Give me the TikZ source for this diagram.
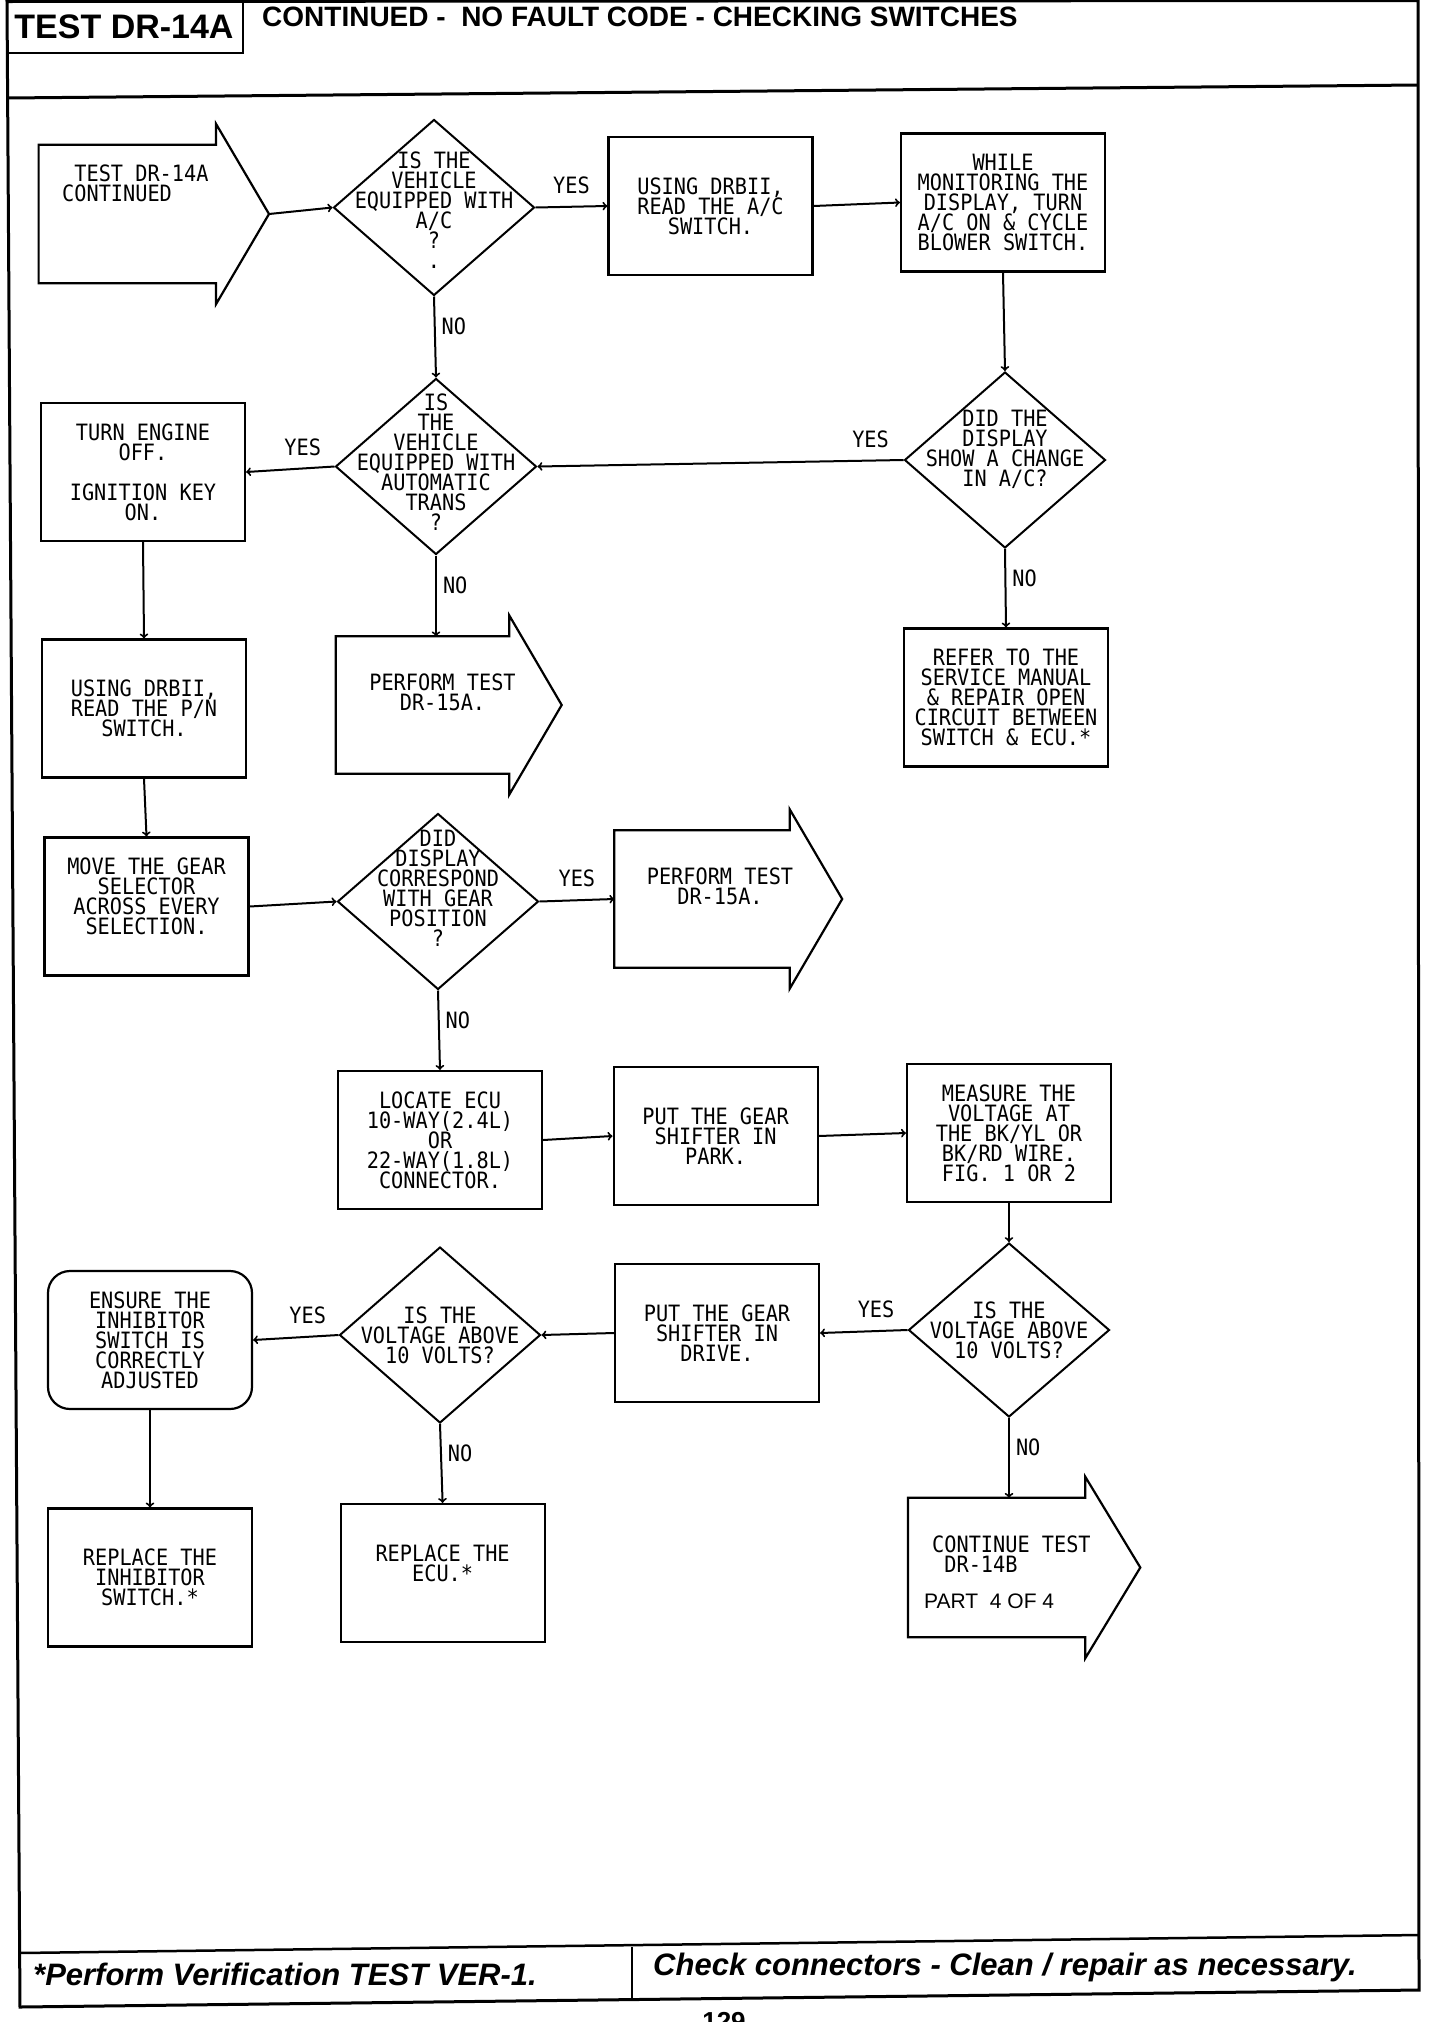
\documentclass[tikz,border=0pt]{standalone}
\usepackage{fontspec}
\setmainfont{Liberation Sans}
\setmonofont[FakeStretch=0.9]{DejaVu Sans Mono}
\usepackage{tikz}
\usetikzlibrary{positioning,shapes,arrows}

\begin{document}
\begin{tikzpicture}[x=1pt,y=-1pt,
        txt/.style={font=\ttfamily\fontsize{22.5}{20}\selectfont,align=center,inner sep=0pt},
        box/.style={draw,line width=2.2pt,minimum width=204pt,minimum height=138pt,txt},
        dia/.style={diamond,draw,line width=2pt,minimum width=201pt,minimum height=176pt,inner sep=0pt},
        arr/.style={minimum width=175pt,minimum height=137pt,inner sep=0pt},
        yn/.style={txt},
        go/.style={->,line width=2pt}]
        \useasboundingbox (0,0) rectangle (1440,2022);

        \draw[line width=3pt] (7,1.5) -- (1418,0.5) -- (1419,1990) -- (20,2007) -- cycle;
        \draw[line width=3pt] (7,98) -- (1418,85);
        \draw[line width=2.5pt] (7,53) -- (243,53) -- (243,1.5);
        \draw[line width=2.5pt] (19,1953) -- (1419,1935);
        \draw[line width=2.5pt] (632,1947) -- (632,1998);

        \node[font=\bfseries\fontsize{34}{34}\selectfont,inner sep=0pt] (title) at (124,27) {TEST DR-14A};
        \node[font=\bfseries\fontsize{28}{28}\selectfont,inner sep=0pt,anchor=west] (head) at (262,17) {CONTINUED -\ \ NO FAULT CODE - CHECKING SWITCHES};
        \node[font=\bfseries\itshape\fontsize{31}{31}\selectfont,inner sep=0pt,anchor=base west] (verify) at (33,1985) {*Perform Verification TEST VER-1.};
        \node[font=\bfseries\itshape\fontsize{31}{31}\selectfont,inner sep=0pt,anchor=base west] (check) at (653,1975) {Check connectors - Clean / repair as necessary.};
        \node[font=\bfseries\fontsize{26}{26}\selectfont,inner sep=0pt,anchor=north] (page) at (724,2012) {129};

        \node[arr,minimum width=177pt,minimum height=138pt] (start) at (127.3,214) {};
        \node[dia,label={[txt,yshift=-3pt]center:{IS THE\\VEHICLE\\EQUIPPED WITH\\A/C\\?\\.}}] (acq) at (434,207.5) {};
        \node[box] (readac) at (710.5,206) {USING DRBII,\\READ THE A/C\\SWITCH.};
        \node[box] (monitor) at (1003,202.5) {WHILE\\MONITORING THE\\DISPLAY, TURN\\A/C ON \& CYCLE\\BLOWER SWITCH.};
        \node[box] (engoff) at (143,472) {TURN ENGINE\\OFF.\\[20pt]IGNITION KEY\\ON.};
        \node[dia,label={[txt,yshift=4pt]center:{IS\\THE\\VEHICLE\\EQUIPPED WITH\\AUTOMATIC\\TRANS\\?}}] (autoq) at (436,466.5) {};
        \node[dia,label={[txt,yshift=11pt]center:{DID THE\\DISPLAY\\SHOW A CHANGE\\IN A/C?}}] (changeq) at (1005,460) {};
        \node[box] (readpn) at (144,708.5) {USING DRBII,\\READ THE P/N\\SWITCH.};
        \node[arr,minimum width=173pt] (dr15a) at (422.5,705) {};
        \node[box] (refer) at (1006,697.5) {REFER TO THE\\SERVICE MANUAL\\\& REPAIR OPEN\\CIRCUIT BETWEEN\\SWITCH \& ECU.*};
        \node[box] (move) at (146.5,906.5) {MOVE THE GEAR\\SELECTOR\\ACROSS EVERY\\SELECTION.\\~};
        \node[dia,label={[txt,yshift=13pt]center:{DID\\DISPLAY\\CORRESPOND\\WITH GEAR\\POSITION\\?}}] (corrq) at (438,901.5) {};
        \node[arr] (dr15b) at (702,899) {};
        \node[box] (locate) at (440,1140) {LOCATE ECU\\10-WAY(2.4L)\\OR\\22-WAY(1.8L)\\CONNECTOR.};
        \node[box] (park) at (715.6,1136) {PUT THE GEAR\\SHIFTER IN\\PARK.};
        \node[box] (measure) at (1009,1133) {MEASURE THE\\VOLTAGE AT\\THE BK/YL OR\\BK/RD WIRE.\\FIG. 1 OR 2};
        \node[dia,minimum height=174pt,label={[txt]center:{IS THE\\VOLTAGE ABOVE\\10 VOLTS?}}] (voltq) at (1009,1330) {};
        \node[box] (drive) at (717,1333) {PUT THE GEAR\\SHIFTER IN\\DRIVE.};
        \node[dia,label={[txt]center:{IS THE\\VOLTAGE ABOVE\\10 VOLTS?}}] (voltqb) at (440,1335) {};
        \node[box,rounded corners=22pt] (ensure) at (150,1340) {ENSURE THE\\INHIBITOR\\SWITCH IS\\CORRECTLY\\ADJUSTED};
        \node[box] (repinh) at (150,1577.5) {REPLACE THE\\INHIBITOR\\SWITCH.*};
        \node[box] (repecu) at (442.6,1573) {REPLACE THE\\ECU.*\\~};
        \node[arr,minimum width=177pt,minimum height=139pt] (cont) at (996.6,1567.5) {};

        \foreach \n/\hl in {start/53,dr15a/52.5,dr15b/52.5,cont/55}{
            \draw[line width=2.2pt] (\n.north east) -- (\n.north west) -- (\n.south west) -- (\n.south east)
                -- ([yshift=-21pt]\n.south east) -- ([xshift=\hl pt]\n.east) -- ([yshift=21pt]\n.north east) -- cycle;
            \coordinate (\n-tip) at ([xshift=\hl pt]\n.east);
        }
        \node[txt,align=left,anchor=west] (start-t) at (62,183) {\ TEST DR-14A\\CONTINUED};
        \node[txt] (dr15a-t) at ([xshift=20pt,yshift=12.5pt]dr15a.center) {PERFORM TEST\\DR-15A.};
        \node[txt] (dr15b-t) at ([xshift=18pt,yshift=12.5pt]dr15b.center) {PERFORM TEST\\DR-15A.};
        \node[txt,align=left,anchor=west] (cont-t) at (924,1572) {\hspace{8pt}CONTINUE TEST\\\hspace{8pt}\ DR-14B\\[16pt]{\rmfamily\fontsize{21}{20}\selectfont PART\ \ 4 OF 4}};

        \draw[go] (start-tip) -- (acq.west);
        \draw[go] (acq.east) -- node[yn,above=12pt] (acq-yes) {YES} (readac.west);
        \draw[go] (readac.east) -- (monitor.west);
        \draw[go] (monitor.south) -- (changeq.north);
        \draw[go] (acq.south) -- node[yn,right=6pt,pos=.37] (acq-no) {NO} (autoq.north);
        \draw[go] (changeq.west) -- node[yn,above=12pt,pos=.09] (changeq-yes) {YES} (autoq.east);
        \draw[go] (autoq.west) -- node[yn,above=12pt,pos=.36] (autoq-yes) {YES} (engoff.east);
        \draw[go] (autoq.south) -- node[yn,right=6pt,pos=.37] (autoq-no) {NO} (autoq.south |- dr15a.north);
        \draw[go] (changeq.south) -- node[yn,right=6pt,pos=.37] (changeq-no) {NO} (refer.north);
        \draw[go] (engoff.south) -- (readpn.north);
        \draw[go] (readpn.south) -- (move.north);
        \draw[go] (move.east) -- (corrq.west);
        \draw[go] (corrq.east) -- node[yn,above=12pt] (corrq-yes) {YES} (dr15b.west);
        \draw[go] (corrq.south) -- node[yn,right=6pt,pos=.37] (corrq-no) {NO} (locate.north);
        \draw[go] (locate.east) -- (park.west);
        \draw[go] (park.east) -- (measure.west);
        \draw[go] (measure.south) -- (voltq.north);
        \draw[go] (voltq.west) -- node[yn,above=12pt,pos=.36] (voltq-yes) {YES} (drive.east);
        \draw[go] (drive.west) -- (voltqb.east);
        \draw[go] (voltqb.west) -- node[yn,above=12pt,pos=.36] (voltqb-yes) {YES} (ensure.east);
        \draw[go] (voltqb.south) -- node[yn,right=6pt,pos=.37] (voltqb-no) {NO} (repecu.north);
        \draw[go] (ensure.south) -- (repinh.north);
        \draw[go] (voltq.south) -- node[yn,right=6pt,pos=.37] (voltq-no) {NO} (voltq.south |- cont.north);
    \end{tikzpicture}
\end{document}
